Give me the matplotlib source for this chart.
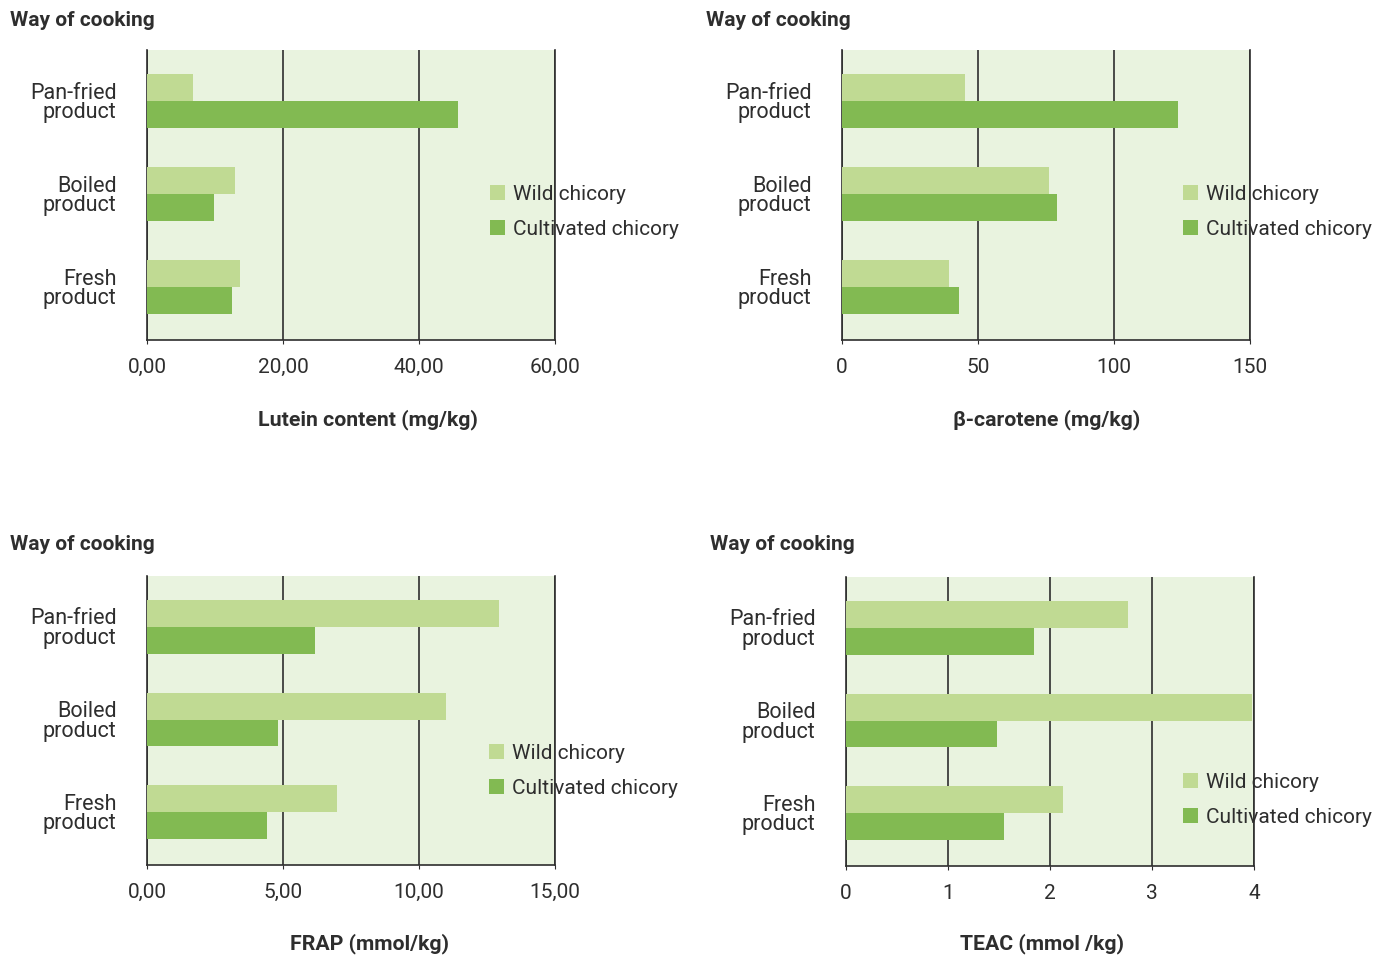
import matplotlib.pyplot as plt
import numpy as np

# data
categories = ["Fresh\nproduct", "Boiled\nproduct", "Pan-fried\nproduct"]
series = ["Wild chicory", "Cultivated chicory"]

lutein_wild = [13.7, 12.9, 6.8]
lutein_cult = [12.5, 9.9, 45.8]
carotene_wild = [39.2, 76.0, 45.3]
carotene_cult = [42.9, 79.1, 123.7]
frap_wild = [6.98, 10.98, 12.95]
frap_cult = [4.42, 4.80, 6.16]
teac_wild = [2.13, 3.98, 2.76]
teac_cult = [1.55, 1.48, 1.84]

lutein_ticks = [0, 20, 40, 60]
carotene_ticks = [0, 50, 100, 150]
frap_ticks = [0, 5, 10, 15]
teac_ticks = [0, 1, 2, 3, 4]

lutein_labels = ["0,00", "20,00", "40,00", "60,00"]
carotene_labels = ["0", "50", "100", "150"]
frap_labels = ["0,00", "5,00", "10,00", "15,00"]
teac_labels = ["0", "1", "2", "3", "4"]

xlabels = ["Lutein content (mg/kg)", "β-carotene (mg/kg)",
           "FRAP (mmol/kg)", "TEAC (mmol /kg)"]

light = "#c0da93"
dark = "#82ba52"
bg = "#e9f3df"
ink = "#2e2e2e"

plt.rcParams['font.family'] = ['Roboto', 'DejaVu Sans']

fig = plt.figure(figsize=(13.75, 9.56), dpi=100)
W, H = 1375, 956

# panel boxes in pixels: left, top, right, bottom
boxes = [(147, 50, 555, 340), (842, 50, 1250, 340),
         (147, 576, 555, 865), (846, 577, 1254, 866)]
titles_xy = [(10, 20), (706, 20), (10, 545), (710, 545)]
legend_xy = [(490, 212), (1183, 212), (489, 771), (1183, 800)]
xlabel_x = [368, 1047, 370, 1042]
xlabel_y = [420, 420, 944, 944]

panels = [
    (lutein_wild, lutein_cult, lutein_ticks, lutein_labels),
    (carotene_wild, carotene_cult, carotene_ticks, carotene_labels),
    (frap_wild, frap_cult, frap_ticks, frap_labels),
    (teac_wild, teac_cult, teac_ticks, teac_labels),
]

y = np.arange(len(categories))
h = 0.29

for i, (wild, cult, ticks, tlabels) in enumerate(panels):
    l, t, r, b = boxes[i]
    ax = fig.add_axes([l / W, 1 - b / H, (r - l) / W, (b - t) / H])
    ax.set_facecolor(bg)
    ax.barh(y + h / 2, wild, height=h, color=light, label=series[0], zorder=3)
    ax.barh(y - h / 2, cult, height=h, color=dark, label=series[1], zorder=3)
    ax.set_xlim(ticks[0], ticks[-1])
    ax.set_ylim(-0.57, 2.55)
    ax.set_xticks(ticks)
    ax.set_xticklabels(tlabels)
    ax.set_yticks(y)
    ax.set_yticklabels(categories, linespacing=0.92)
    for lab in ax.get_yticklabels():
        lab.set_horizontalalignment('right')
    ax.tick_params(axis='y', length=0, pad=22, labelsize=15.5, labelcolor=ink)
    ax.tick_params(axis='x', length=3, pad=10, labelsize=15, labelcolor=ink,
                   color=ink)
    ax.xaxis.grid(True, color=ink, lw=1.2, zorder=1)
    ax.set_axisbelow(True)
    ax.spines['top'].set_visible(False)
    for s in ['left', 'bottom', 'right']:
        ax.spines[s].set_color(ink)
        ax.spines[s].set_linewidth(1.2)

    leg = ax.legend(loc='center left',
                    bbox_to_anchor=((legend_xy[i][0] - l) / (r - l),
                                    (b - legend_xy[i][1]) / (b - t)),
                    frameon=False, fontsize=15, handlelength=0.72,
                    handleheight=0.72, handletextpad=0.4, labelspacing=0.78,
                    borderaxespad=0, borderpad=0)
    for txt in leg.get_texts():
        txt.set_color(ink)
    leg.set_zorder(0.5)

    fig.text(titles_xy[i][0] / W, 1 - titles_xy[i][1] / H, "Way of cooking",
             fontsize=15, fontweight='bold', color=ink, va='center', ha='left')
    fig.text(xlabel_x[i] / W, 1 - xlabel_y[i] / H, xlabels[i], fontsize=15.3,
             fontweight='bold', color=ink, va='center', ha='center')

fig.savefig("out.png", dpi=100)
